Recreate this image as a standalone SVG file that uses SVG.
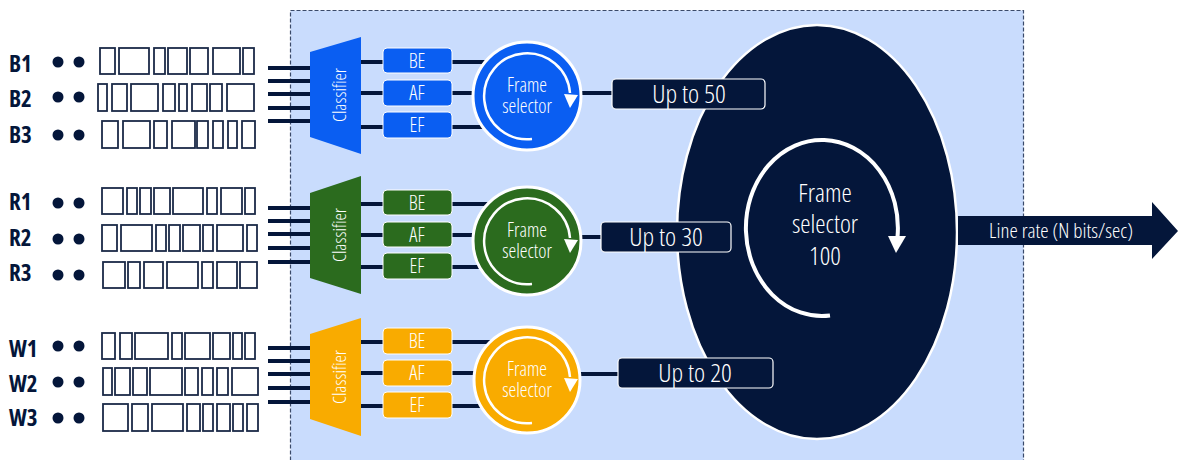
<svg xmlns="http://www.w3.org/2000/svg" width="1179" height="460" viewBox="0 0 1179 460">
<defs>
<style>
.t{font-family:"Open Sans","Noto Sans","Liberation Sans",sans-serif;font-stretch:condensed;font-weight:300;fill:#fff;text-anchor:middle}
.lbl{font-family:"Open Sans","Noto Sans","Liberation Sans",sans-serif;font-stretch:condensed;font-weight:700;font-size:23px;fill:#04163a}
.pk rect{fill:#fff;stroke:#1b2a48;stroke-width:1.8}
.wire{stroke:#04163a;stroke-width:4;fill:none}
.q{stroke:#fff;stroke-width:1;}
.navybox{fill:#04163a;stroke:#fff;stroke-width:1.2}
.arc{fill:none;stroke:#fff;stroke-width:2.5}
</style>
</defs>
<rect x="0" y="0" width="1179" height="460" fill="#fff"/>
<rect id="boundary" x="290.5" y="10.5" width="733" height="470" fill="#c9dcfd" stroke="#3a4a6a" stroke-width="1.2" stroke-dasharray="4 2"/>

<g id="big-selector">
<ellipse cx="817" cy="232" rx="140" ry="207" fill="#04163a" stroke="#fff" stroke-width="2.5"/>
<path d="M830,315.5 A76,88 0 1 1 897.5,237" fill="none" stroke="#fff" stroke-width="4"/>
<polygon points="888,236 906,236 896,253" fill="#fff"/>
<text class="t" font-size="26"><tspan x="825" y="202">Frame</tspan><tspan x="825" dy="31">selector</tspan><tspan x="825" dy="32">100</tspan></text>
</g>

<g id="connectors">
<g class="wire">
<path d="M268,68H312M268,81H312M268,94H312M268,108H312M268,121H312"/>
<path d="M268,208H312M268,221H312M268,234H312M268,248H312M268,262H312"/>
<path d="M268,348H312M268,361H312M268,374H312M268,388H312M268,402H312"/>
<path d="M360,62H384M360,93H384M360,127H384M451,62H490M451,93H480M451,127H490"/>
<path d="M360,204H384M360,235H384M360,267H384M451,204H490M451,235H480M451,267H490"/>
<path d="M360,342H384M360,373H384M360,406H384M451,342H490M451,373H480M451,406H490"/>
<path d="M580,93H614M580,237H603M580,374H620"/>
</g>
<g id="output-arrow">
<polygon points="958,216 1152,216 1152,202 1178,231 1152,259 1152,245 958,245" fill="#04163a"/>
<text class="t" font-size="21" x="1061" y="238">Line rate (N bits/sec)</text>
</g>
</g>

<g id="labels">
<text class="lbl" x="9" y="72">B1</text><text class="lbl" x="9" y="107">B2</text><text class="lbl" x="9" y="143">B3</text>
<text class="lbl" x="9" y="210">R1</text><text class="lbl" x="9" y="246">R2</text><text class="lbl" x="9" y="281">R3</text>
<text class="lbl" x="9" y="357">W1</text><text class="lbl" x="9" y="392">W2</text><text class="lbl" x="9" y="426">W3</text>
<g fill="#04163a">
<circle cx="58" cy="62" r="5.5"/><circle cx="79" cy="62" r="5.5"/>
<circle cx="58" cy="97" r="5.5"/><circle cx="79" cy="97" r="5.5"/>
<circle cx="58" cy="135" r="5.5"/><circle cx="79" cy="135" r="5.5"/>
<circle cx="58" cy="203" r="5.5"/><circle cx="79" cy="203" r="5.5"/>
<circle cx="58" cy="239" r="5.5"/><circle cx="79" cy="239" r="5.5"/>
<circle cx="58" cy="275" r="5.5"/><circle cx="79" cy="275" r="5.5"/>
<circle cx="58" cy="346" r="5.5"/><circle cx="79" cy="346" r="5.5"/>
<circle cx="58" cy="382" r="5.5"/><circle cx="79" cy="382" r="5.5"/>
<circle cx="58" cy="418" r="5.5"/><circle cx="79" cy="418" r="5.5"/>
</g>
</g>

<g id="packets" class="pk">
<g transform="translate(0,48)"><rect x="100" width="15" height="26"/><rect x="119" width="30" height="26"/><rect x="154" width="11" height="26"/><rect x="168" width="19" height="26"/><rect x="190" width="18" height="26"/><rect x="213" width="27" height="26"/><rect x="243" width="11" height="26"/></g>
<g transform="translate(0,84)"><rect x="98" width="9" height="27"/><rect x="112" width="15" height="27"/><rect x="131" width="27" height="27"/><rect x="163" width="12" height="27"/><rect x="179" width="8" height="27"/><rect x="192" width="15" height="27"/><rect x="210" width="12" height="27"/><rect x="227" width="27" height="27"/></g>
<g transform="translate(0,121)"><rect x="102" width="16" height="27"/><rect x="123" width="27" height="27"/><rect x="154" width="13" height="27"/><rect x="172" width="23" height="27"/><rect x="197" width="11" height="27"/><rect x="213" width="10" height="27"/><rect x="228" width="9" height="27"/><rect x="242" width="13" height="27"/></g>
<g transform="translate(0,188)"><rect x="102" width="21" height="26"/><rect x="127" width="10" height="26"/><rect x="140" width="11" height="26"/><rect x="154" width="16" height="26"/><rect x="173" width="30" height="26"/><rect x="207" width="10" height="26"/><rect x="221" width="21" height="26"/><rect x="245" width="10" height="26"/></g>
<g transform="translate(0,225)"><rect x="102" width="15" height="26"/><rect x="121" width="31" height="26"/><rect x="156" width="10" height="26"/><rect x="169" width="11" height="26"/><rect x="183" width="17" height="26"/><rect x="203" width="10" height="26"/><rect x="217" width="26" height="26"/><rect x="247" width="10" height="26"/></g>
<g transform="translate(0,262)"><rect x="103" width="22" height="26"/><rect x="128" width="12" height="26"/><rect x="144" width="19" height="26"/><rect x="167" width="31" height="26"/><rect x="202" width="11" height="26"/><rect x="217" width="20" height="26"/><rect x="240" width="17" height="26"/></g>
<g transform="translate(0,333)"><rect x="102" width="13" height="26"/><rect x="120" width="12" height="26"/><rect x="135" width="33" height="26"/><rect x="172" width="10" height="26"/><rect x="185" width="25" height="26"/><rect x="213" width="17" height="26"/><rect x="233" width="9" height="26"/><rect x="245" width="10" height="26"/></g>
<g transform="translate(0,368)"><rect x="103" width="9" height="27"/><rect x="115" width="15" height="27"/><rect x="133" width="14" height="27"/><rect x="150" width="32" height="27"/><rect x="185" width="13" height="27"/><rect x="202" width="11" height="27"/><rect x="217" width="11" height="27"/><rect x="232" width="26" height="27"/></g>
<g transform="translate(0,404)"><rect x="103" width="25" height="27"/><rect x="132" width="16" height="27"/><rect x="152" width="31" height="27"/><rect x="187" width="13" height="27"/><rect x="203" width="10" height="27"/><rect x="217" width="13" height="27"/><rect x="233" width="10" height="27"/><rect x="247" width="11" height="27"/></g>
</g>

<g id="blue-group" fill="#0a5ef2">
<polygon points="310,52 361,37 361,154 310,137"/>
<text class="t" font-size="18.5" transform="translate(346,95) rotate(-90)">Classifier</text>
<rect class="q" x="383" y="48" width="69" height="25" rx="4"/>
<rect class="q" x="383" y="80" width="69" height="26" rx="4"/>
<rect class="q" x="383" y="112" width="69" height="26" rx="4"/>
<text class="t" font-size="20" x="417" y="68">BE</text>
<text class="t" font-size="20" x="417" y="100">AF</text>
<text class="t" font-size="20" x="417" y="132">EF</text>
<circle cx="527" cy="96" r="54" stroke="#fff" stroke-width="3"/>
<path class="arc" d="M532,139 A43,43 0 1 1 570,93"/>
<polygon points="564,94 578,95 570,108" fill="#fff"/>
<text class="t" font-size="19.5"><tspan x="527" y="92">Frame</tspan><tspan x="527" dy="21">selector</tspan></text>
</g>

<g id="green-group" fill="#2b6b1e">
<polygon points="310,193 361,176 361,294 310,278"/>
<text class="t" font-size="18.5" transform="translate(346,235) rotate(-90)">Classifier</text>
<rect class="q" x="383" y="190" width="69" height="25" rx="4"/>
<rect class="q" x="383" y="222" width="69" height="25" rx="4"/>
<rect class="q" x="383" y="253" width="69" height="26" rx="4"/>
<text class="t" font-size="20" x="417" y="210">BE</text>
<text class="t" font-size="20" x="417" y="242">AF</text>
<text class="t" font-size="20" x="417" y="273">EF</text>
<circle cx="527" cy="241" r="54" stroke="#fff" stroke-width="3"/>
<path class="arc" d="M532,284 A43,43 0 1 1 570,238"/>
<polygon points="564,239 578,240 570,253" fill="#fff"/>
<text class="t" font-size="19.5"><tspan x="527" y="237">Frame</tspan><tspan x="527" dy="21">selector</tspan></text>
</g>

<g id="yellow-group" fill="#f9ab00">
<polygon points="310,334 361,318 361,436 310,419"/>
<text class="t" font-size="18.5" transform="translate(346,377) rotate(-90)">Classifier</text>
<rect class="q" x="383" y="328" width="69" height="26" rx="4"/>
<rect class="q" x="383" y="360" width="69" height="26" rx="4"/>
<rect class="q" x="383" y="392" width="69" height="26" rx="4"/>
<text class="t" font-size="20" x="417" y="348">BE</text>
<text class="t" font-size="20" x="417" y="380">AF</text>
<text class="t" font-size="20" x="417" y="412">EF</text>
<circle cx="527" cy="380" r="53" stroke="#fff" stroke-width="3"/>
<path class="arc" d="M532,423 A43,43 0 1 1 570,377"/>
<polygon points="564,378 578,379 570,392" fill="#fff"/>
<text class="t" font-size="19.5"><tspan x="527" y="376">Frame</tspan><tspan x="527" dy="21">selector</tspan></text>
</g>

<g id="rate-50"><rect class="navybox" x="612" y="79" width="153" height="30" rx="4"/><text class="t" font-size="26.5" x="689" y="103">Up to 50</text></g>
<g id="rate-30"><rect class="navybox" x="601" y="222" width="130" height="30" rx="4"/><text class="t" font-size="26.5" x="666" y="246">Up to 30</text></g>
<g id="rate-20"><rect class="navybox" x="618" y="358" width="155" height="30" rx="4"/><text class="t" font-size="26.5" x="695" y="382">Up to 20</text></g>
</svg>
